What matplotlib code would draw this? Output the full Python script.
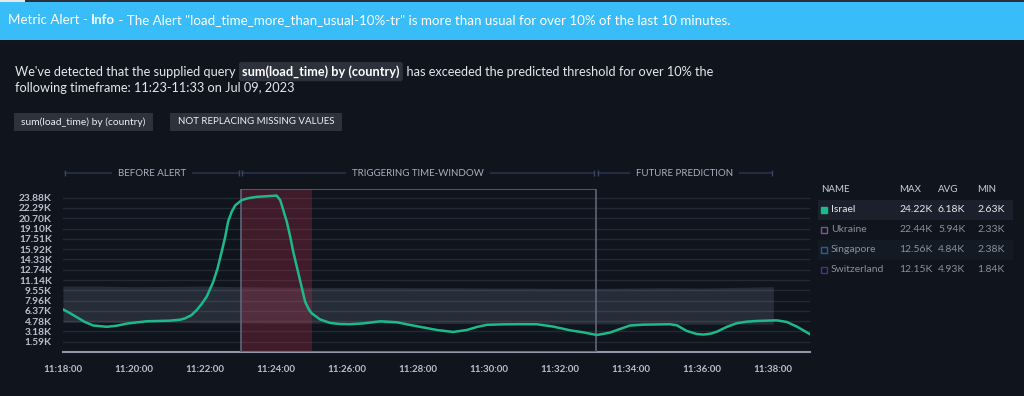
import matplotlib.pyplot as plt
from matplotlib.patches import Rectangle
from matplotlib.text import Annotation
from matplotlib.transforms import blended_transform_factory

# --- data ---
times = ["11:18:00", "11:18:12", "11:18:23", "11:18:37", "11:18:51", "11:19:14",
         "11:19:31", "11:19:48", "11:20:21", "11:21:01", "11:21:18", "11:21:26",
         "11:21:37", "11:21:46", "11:21:54", "11:22:03", "11:22:14", "11:22:21",
         "11:22:28", "11:22:34", "11:22:39", "11:22:45", "11:22:51", "11:23:02",
         "11:23:13", "11:23:27", "11:23:44", "11:24:01", "11:24:07", "11:24:18",
         "11:24:24", "11:24:29", "11:24:35", "11:24:41", "11:24:49", "11:24:55",
         "11:25:00", "11:25:09", "11:25:14", "11:25:31", "11:25:48", "11:26:05",
         "11:26:28", "11:26:56", "11:27:24", "11:27:41", "11:28:03", "11:28:32",
         "11:28:59", "11:29:22", "11:29:39", "11:29:56", "11:30:24", "11:30:52",
         "11:31:20", "11:31:49", "11:32:17", "11:32:39", "11:33:02", "11:33:24",
         "11:33:41", "11:33:58", "11:34:21", "11:35:05", "11:35:17", "11:35:34",
         "11:35:51", "11:36:02", "11:36:14", "11:36:25", "11:36:41", "11:36:58",
         "11:37:15", "11:37:32", "11:38:06", "11:38:23", "11:38:40", "11:39:02"]
israel = [6.6, 6.0, 5.4, 4.64, 4.1, 3.9,
          4.07, 4.4, 4.75, 4.85, 5.0, 5.2,
          5.7, 6.5, 7.4, 8.6, 10.9, 12.9,
          15.5, 17.8, 20.2, 21.7, 22.7, 23.5,
          23.8, 24.0, 24.1, 24.2, 23.5, 20.2,
          17.8, 15.5, 13.2, 10.9, 7.8, 6.65,
          6.0, 5.4, 5.05, 4.5, 4.33, 4.3,
          4.43, 4.75, 4.6, 4.28, 3.9, 3.4,
          3.1, 3.4, 3.87, 4.2, 4.28, 4.3,
          4.3, 3.92, 3.35, 3.04, 2.63, 3.0,
          3.56, 4.1, 4.23, 4.3, 4.13, 3.25,
          2.78, 2.7, 2.83, 3.15, 3.87, 4.45,
          4.69, 4.8, 4.9, 4.64, 3.92, 2.75]

band_times = ["11:%02d:00" % m for m in range(18, 39)]
band_high = [10.2, 10.2, 10.1, 10.15, 10.2, 10.1, 10.05, 10.0, 10.0, 10.0, 9.95,
             9.95, 9.9, 9.9, 9.85, 9.85, 9.9, 9.95, 9.9, 10.0, 10.1]
band_low = [4.6, 4.6, 4.55, 4.55, 4.5, 4.5, 4.45, 4.45, 4.45, 4.45, 4.4,
            4.4, 4.4, 4.35, 4.35, 4.35, 4.35, 4.3, 4.3, 4.3, 4.3]

y_ticks = [1.59, 3.18, 4.78, 6.37, 7.96, 9.55, 11.14, 12.74, 14.33, 15.92,
           17.51, 19.10, 20.70, 22.29, 23.88]
y_labels = ["%.2fK" % v for v in y_ticks]
x_ticks = ["11:%02d:00" % m for m in range(18, 39, 2)]

trigger_start, trigger_end = "11:23:00", "11:33:00"
alert_start, alert_end = "11:23:00", "11:25:00"
sections = [("BEFORE ALERT", "11:18:00", "11:23:00"),
            ("TRIGGERING TIME-WINDOW", "11:23:00", "11:33:00"),
            ("FUTURE PREDICTION", "11:33:00", "11:38:00")]

legend_names = ["Israel", "Ukraine", "Singapore", "Switzerland"]
legend_max = ["24.22K", "22.44K", "12.56K", "12.15K"]
legend_avg = ["6.18K", "5.94K", "4.84K", "4.93K"]
legend_min = ["2.63K", "2.33K", "2.38K", "1.84K"]
legend_colors = ["#1DB98A", "#7D5A8C", "#2D5C99", "#5A2B8A"]


def to_min(s):
    h, m, sec = (int(p) for p in s.split(":"))
    return (h - 11) * 60 + m + sec / 60


BG = "#0F141D"
W, H = 1024, 396
plt.rcParams["font.family"] = ["Lato", "DejaVu Sans"]

fig = plt.figure(figsize=(W / 100, H / 100), dpi=100, facecolor=BG)


def fx(px):
    return px / W


def fy(py):
    return 1 - py / H


def frect(x0, y0, x1, y1, color, **kw):
    fig.patches.append(Rectangle((fx(x0), fy(y1)), fx(x1 - x0), (y1 - y0) / H,
                                 transform=fig.transFigure, facecolor=color,
                                 edgecolor="none", **kw))


# --- banner ---
frect(0, 0, W, 2, "#2A2F3A")
frect(0, 0, 25, 2, "#E8E8E8")
frect(0, 2, W, 40, "#38BDF8")
t1 = fig.text(fx(8), fy(20), "Metric Alert - ", color="white", fontsize=9.6, va="center")
a2 = fig.add_artist(Annotation("Info", xy=(1, 0), xycoords=t1, va="bottom",
                               color="white", fontsize=9.6, fontweight="bold"))
fig.add_artist(Annotation(
    ' - The Alert "load_time_more_than_usual-10%-tr" is more than usual for over 10% of the last 10 minutes.',
    xy=(1, 0), xycoords=a2, va="bottom", color="white", fontsize=9.6))

# --- description ---
TXT = "#E4E7EC"
d1 = fig.text(fx(15), fy(72), "We've detected that the supplied query  ", color=TXT,
              fontsize=9.2, va="center")
d2 = fig.add_artist(Annotation(
    "sum(load_time) by (country)", xy=(1, 0), xycoords=d1, va="bottom",
    color="white", fontsize=9.2, fontweight="bold",
    bbox=dict(boxstyle="round,pad=0.25,rounding_size=0.2", fc="#2C313B", ec="none")))
fig.add_artist(Annotation(
    "  has exceeded the predicted threshold for over 10% the", xy=(1, 0),
    xycoords=d2, va="bottom", color=TXT, fontsize=9.2))
fig.text(fx(15), fy(88), "following timeframe: 11:23-11:33 on Jul 09, 2023", color=TXT,
         fontsize=9.2, va="center")

# --- buttons ---
for label, x0, x1, fs in [("sum(load_time) by (country)", 14, 153, 7.4),
                          ("NOT REPLACING MISSING VALUES", 170, 342, 7.0)]:
    frect(x0, 113, x1, 131, "#2D323C")
    fig.text(fx((x0 + x1) / 2), fy(122), label, color="#EDEFF2", fontsize=fs,
             ha="center", va="center")

# --- chart ---
ax = fig.add_axes([fx(63), fy(352), fx(810 - 63), (352 - 189) / H])
ax.set_facecolor(BG)
x = [to_min(t) for t in times]
bx = [to_min(t) for t in band_times]

for v in y_ticks:
    ax.axhline(v, color="#222937", lw=1, zorder=1)
ax.fill_between(bx, band_low, band_high, color="#A6B2C8", alpha=0.16, lw=0, zorder=2)
ax.axvspan(to_min(alert_start), to_min(alert_end), color="#C0304A", alpha=0.28, lw=0, zorder=2)
ax.axvspan(to_min(trigger_start), to_min(trigger_end), facecolor="none",
           edgecolor="#5E6579", lw=1.2, zorder=3)
ax.plot(x, israel, color="#1DB98A", lw=1.8, zorder=4, solid_joinstyle="round")

ax.set_xlim(to_min("11:18:00"), to_min("11:39:02"))
ax.set_ylim(0, 25.22)
ax.set_yticks(y_ticks)
ax.set_yticklabels(y_labels)
ax.set_xticks([to_min(t) for t in x_ticks])
ax.set_xticklabels(x_ticks)
ax.tick_params(length=0, colors="#B9BFCB", labelsize=7)
ax.tick_params(axis="y", pad=8, labelsize=7.3)
ax.tick_params(axis="x", pad=9)
for lab in ax.get_xticklabels() + ax.get_yticklabels():
    lab.set_fontweight("bold")
for side in ["top", "right", "left"]:
    ax.spines[side].set_visible(False)
ax.spines["bottom"].set_color("#8F97A8")
ax.spines["bottom"].set_linewidth(1.5)

# section headers above the plot
trans = blended_transform_factory(ax.transData, ax.transAxes)
hy = (352 - 173) / 163
for name, s, e in sections:
    xs, xe = to_min(s), to_min(e)
    ax.plot([xs + 0.05, xe - 0.05], [hy, hy], color="#28314A", lw=1.2,
            transform=trans, clip_on=False, zorder=1)
    ax.plot([xs + 0.05, xe - 0.05], [hy, hy], ls="none", marker="|", ms=4,
            color="#3A4566", transform=trans, clip_on=False)
    ax.text((xs + xe) / 2, hy, name, transform=trans, ha="center", va="center",
            color="#A9B0BE", fontsize=7, zorder=3,
            bbox=dict(boxstyle="square,pad=0.6", fc=BG, ec="none"))

# --- legend table ---
frect(818, 200, 1013, 220, "#1B212C")
frect(818, 240, 1013, 260, "#141A24")
cols = [821, 899, 938, 977]
for cx, head in zip(cols, ["NAME", "MAX", "AVG", "MIN"]):
    fig.text(fx(cx), fy(190), head, color="#C9CED7", fontsize=7, va="center")
for i, name in enumerate(legend_names):
    ry = 210 + 20 * i
    tc = "#E6E9EE" if i == 0 else "#8A909C"
    fc = legend_colors[i] if i == 0 else "none"
    fig.patches.append(Rectangle((fx(821), fy(ry + 3)), fx(6), 6 / H,
                                 transform=fig.transFigure, facecolor=fc,
                                 edgecolor=legend_colors[i], lw=1))
    fig.text(fx(831), fy(ry), name, color=tc, fontsize=7.5, va="center")
    for cx, val in zip(cols[1:], [legend_max[i], legend_avg[i], legend_min[i]]):
        fig.text(fx(cx), fy(ry), val, color=tc, fontsize=7.5, va="center")

fig.savefig("out.png", dpi=100, facecolor=BG)
